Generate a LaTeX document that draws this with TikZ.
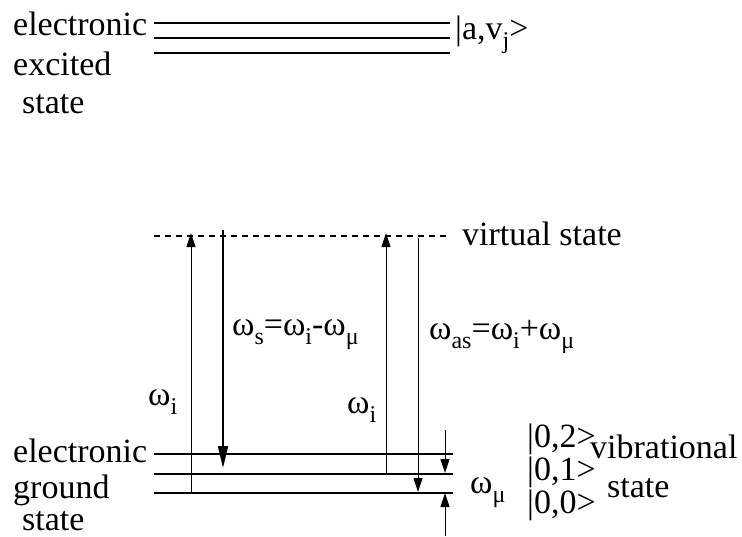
\documentclass[tikz,border=0pt]{standalone}
\usepackage{fontspec}
\setmainfont{Liberation Serif}
\usetikzlibrary{arrows.meta}
\newcommand{\lsub}[1]{\raisebox{-0.28em}{\fontsize{24}{24}\selectfont #1}}

\begin{document}
\begin{tikzpicture}[
  x=1pt, y=-1pt,
  every node/.style={font=\fontsize{34}{40}\selectfont, inner sep=0pt},
  lbl/.style={anchor=base west},
  level/.style={line width=2.6pt},
  virtual/.style={line width=2pt, dash pattern=on 6pt off 5pt},
  photon/.style={line width=1pt, -{Triangle[length=14pt, width=9pt]}},
  scatter/.style={line width=2pt, -{Triangle[length=22pt, width=10pt]}},
]
\useasboundingbox (0,0) rectangle (742,536);

% Electronic excited state
\foreach \y [count=\k] in {23,38,53}
  \draw[level] (154,\y) coordinate (e\k) -- (450,\y);
\node[lbl] (exc1) at (13,35) {electronic};
\node[lbl] (exc2) at (13,75) {excited};
\node[lbl] (exc3) at (22,113) {state};
\node[lbl] (avj) at (455,39) {|a,v\lsub{j}>};

% Virtual state
\draw[virtual] (154,236) coordinate (vl) -- (446,236) coordinate (vr);
\node[lbl] (virt) at (462,245) {virtual state};

% Electronic ground state, vibrational levels
\foreach \y/\n in {454/2,474/1,493/0}
  \draw[level] (154,\y) -- (453,\y) coordinate (g\n);
\node[lbl] (gnd1) at (13,462) {electronic};
\node[lbl] (gnd2) at (13,498) {ground};
\node[lbl] (gnd3) at (22,530) {state};

% Arrow end points
\coordinate (pumpA) at (191,493);
\coordinate (pumpAtop) at (191,233);
\coordinate (stokesTop) at (223,230);
\coordinate (stokesEnd) at (223,468);
\coordinate (pumpB) at (386,474);
\coordinate (pumpBtop) at (386,233);
\coordinate (asTop) at (418,238);
\coordinate (asEnd) at (418,492);
\coordinate (muTop) at (445,430);
\coordinate (muUp) at (445,473);
\coordinate (muBot) at (445,536);
\coordinate (muLow) at (445,493);

% Transitions
\draw[photon] (pumpA) -- (pumpAtop);
\draw[scatter] (stokesTop) -- (stokesEnd);
\draw[photon] (pumpB) -- (pumpBtop);
\draw[photon] (asTop) -- (asEnd);
\draw[photon] (muTop) -- (muUp);
\draw[photon] (muBot) -- (muLow);

% Frequency labels
\node[lbl] (wiA) at (148,405) {ω\lsub{i}};
\node[lbl] (wiB) at (347,413) {ω\lsub{i}};
\node[lbl] (ws) at (232,335) {ω\lsub{s}=ω\lsub{i}-ω\lsub{μ}};
\node[lbl] (was) at (429,339) {ω\lsub{as}=ω\lsub{i}+ω\lsub{μ}};
\node[lbl] (wmu) at (470,493) {ω\lsub{μ}};

% Vibrational kets
\node[lbl] (k2) at (527,447) {|0,2>};
\node[lbl] (k1) at (527,480) {|0,1>};
\node[lbl] (k0) at (527,513) {|0,0>};
\node[lbl] (vib1) at (590,458) {vibrational};
\node[lbl] (vib2) at (607,497) {state};

\end{tikzpicture}
\end{document}
